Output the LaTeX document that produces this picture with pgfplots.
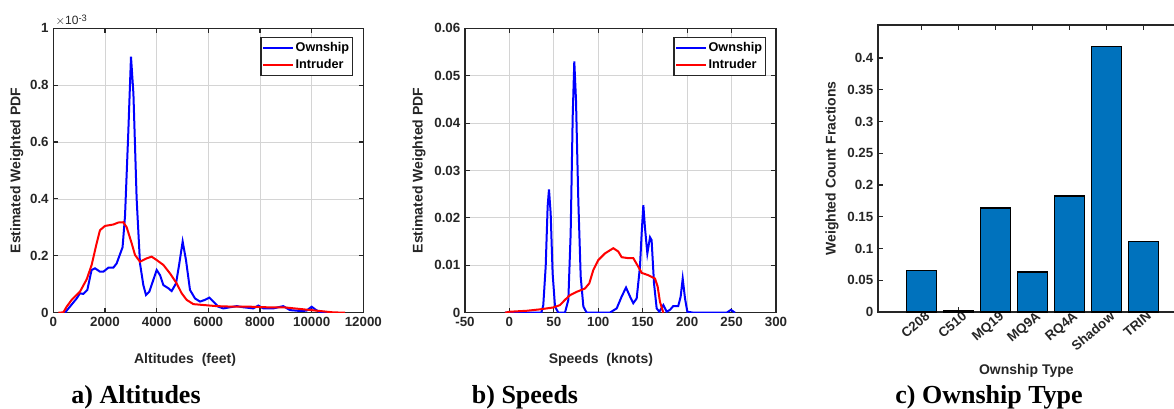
\documentclass[border=0pt]{standalone}
\usepackage{fontspec}
\setmainfont{Liberation Serif}
\setsansfont{Liberation Sans}
\usepackage{pgfplots}
\pgfplotsset{compat=1.18}
\definecolor{matblue}{RGB}{0,114,189}
\definecolor{axgray}{RGB}{38,38,38}

\pgfplotsset{
  matstyle/.style={
    scale only axis,
    anchor=south west,
    font=\sffamily\bfseries\fontsize{10}{12}\selectfont,
    tick label style={font=\sffamily\bfseries\fontsize{10}{12}\selectfont, text=axgray},
    label style={font=\sffamily\bfseries\fontsize{10.5}{12}\selectfont, text=axgray},
    /pgf/number format/assume math mode=true,
    /pgf/number format/1000 sep={},
    axis line style={line width=1pt, axgray},
    major tick length=3.5pt,
    tick style={line width=0.8pt, axgray},
    grid style={line width=0.6pt, black!17},
    legend style={draw=axgray, line width=0.9pt, font=\sffamily\bfseries\fontsize{9.5}{11}\selectfont,
      anchor=north east, inner xsep=1pt, inner ysep=2.5pt, row sep=2.5pt,
      nodes={inner xsep=1.5pt, inner ysep=1pt}},
    legend cell align=left,
    legend image code/.code={\draw[#1] (0pt,0pt) -- (22pt,0pt);},
  }
}

\begin{document}
\begin{tikzpicture}
\path[use as bounding box] (0,0) rectangle (880.5pt,306pt);

% ---------- a) Altitudes ----------
\begin{axis}[matstyle,
  at={(40pt,71.5pt)}, width=232.5pt, height=213.3pt,
  xmin=0, xmax=12000, ymin=0, ymax=1,
  xtick={0,2000,4000,6000,8000,10000,12000},
  scaled x ticks=false,
  ytick={0,0.2,0.4,0.6,0.8,1},
  yticklabels={0,0.2,0.4,0.6,0.8,1},
  grid=major,
  xlabel={Altitudes\ \ (feet)},
  ylabel={Estimated Weighted PDF},
  xlabel style={at={(axis description cs:0.425,-0.166)}, anchor=center},
  ylabel style={at={(axis description cs:-0.118,0.5)}, anchor=center},
  legend style={at={(rel axis cs:0.967,0.969)}},
]
\addplot[blue, line width=1.5pt] coordinates {
(450,0) (903,0.050) (1030,0.068) (1160,0.066) (1316,0.08) (1480,0.15) (1613,0.156)
(1806,0.144) (1935,0.144) (2130,0.158) (2320,0.158) (2450,0.173) (2680,0.23)
(2775,0.34) (2900,0.63) (3006,0.90) (3100,0.77) (3225,0.40) (3355,0.173)
(3484,0.097) (3587,0.062) (3716,0.074) (3870,0.115) (4000,0.15) (4130,0.132)
(4258,0.097) (4450,0.086) (4580,0.076) (4750,0.103) (4877,0.173) (5006,0.25)
(5135,0.185) (5290,0.08) (5484,0.05) (5677,0.039) (5870,0.045) (6040,0.053)
(6193,0.039) (6387,0.021) (6580,0.015) (6840,0.019) (7100,0.023) (7355,0.019)
(7740,0.015) (7935,0.025) (8130,0.015) (8516,0.015) (8900,0.023) (9160,0.009)
(9550,0.006) (9800,0.007) (10000,0.021) (10130,0.012) (10320,0.001) (10700,0)
};
\addlegendentry{Ownship}
\addplot[red, line width=1.5pt] coordinates {
(194,0) (387,0.001) (516,0.021) (710,0.045) (1032,0.074) (1290,0.117) (1484,0.168)
(1677,0.244) (1806,0.29) (2000,0.305) (2323,0.31) (2516,0.317) (2710,0.318)
(2840,0.30) (3032,0.244) (3161,0.203) (3355,0.179) (3613,0.191) (3806,0.197)
(4000,0.185) (4258,0.168) (4516,0.138) (4774,0.103) (4968,0.068) (5161,0.045)
(5420,0.030) (5806,0.027) (6323,0.023) (6968,0.021) (7613,0.021) (8258,0.019)
(8903,0.019) (9548,0.013) (10194,0.007) (10839,0.001) (11290,0)
};
\addlegendentry{Intruder}
\end{axis}
\node[anchor=south west, inner sep=0pt, font=\sffamily\fontsize{9}{10}\selectfont, text=axgray]
  at (41.5pt,286.5pt) {$\times$10\raisebox{0.55ex}{\fontsize{7}{8}\selectfont -3}};

% ---------- b) Speeds ----------
\begin{axis}[matstyle,
  at={(348.75pt,71.5pt)}, width=233.25pt, height=213.3pt,
  xmin=-50, xmax=300, ymin=0, ymax=0.06,
  xtick={-50,0,50,100,150,200,250,300},
  ytick={0,0.01,0.02,0.03,0.04,0.05,0.06},
  yticklabels={0,0.01,0.02,0.03,0.04,0.05,0.06},
  scaled y ticks=false,
  grid=major,
  xlabel={Speeds\ \ (knots)},
  ylabel={Estimated Weighted PDF},
  xlabel style={at={(axis description cs:0.437,-0.166)}, anchor=center},
  ylabel style={at={(axis description cs:-0.148,0.5)}, anchor=center},
  legend style={at={(rel axis cs:0.968,0.969)}},
]
\addplot[blue, line width=1.5pt] coordinates {
(-5,0) (36,0) (38.1,0.0016) (40.8,0.0097) (43,0.0224) (44.5,0.026) (46.4,0.021)
(48.6,0.0083) (51.3,0.0013) (55,0) (62.5,0) (66.3,0.0027) (68.9,0.0167)
(71.2,0.0414) (73,0.053) (74.9,0.0449) (77.5,0.0238) (80.2,0.0076) (83.2,0.0013)
(86.9,0) (113,0) (120.7,0.0009) (126.3,0.0034) (131.2,0.0053) (135.7,0.0034)
(139.4,0.002) (143.2,0.003) (146.9,0.0097) (148.8,0.0167) (150.7,0.0227)
(152.5,0.018) (155.2,0.0125) (158.2,0.0159) (160,0.0153) (162.7,0.0062)
(165.7,0.0009) (168.7,0.0002) (173.2,0.0016) (176.9,0.0002) (180.7,0.0006)
(184.4,0.0014) (190,0.0014) (192.7,0.0034) (195,0.0072) (197.6,0.003)
(200.2,0.0002) (207,0) (244.5,0) (249.3,0.0006) (253.8,0)
};
\addlegendentry{Ownship}
\addplot[red, line width=1.5pt] coordinates {
(-5,0) (0.6,0.0002) (19.4,0.0004) (34.4,0.0007) (49.4,0.0011) (56.9,0.0016)
(62.5,0.0027) (68.2,0.0037) (75.7,0.0044) (85,0.0051) (89.9,0.0062) (94.4,0.009)
(100,0.0111) (107.5,0.0125) (116.9,0.0136) (122.5,0.0129) (126.3,0.0117)
(133.8,0.0115) (139.4,0.0115) (145,0.0097) (148.8,0.0084) (156.3,0.0079)
(163.8,0.0072) (166.8,0.0055) (169.4,0.0023) (173.2,0)
};
\addlegendentry{Intruder}
\end{axis}

% ---------- c) Ownship Type ----------
\begin{axis}[matstyle,
  at={(658.5pt,72pt)}, width=222.5pt, height=215.25pt,
  xmin=-0.18, xmax=7.85, ymin=0, ymax=0.452,
  xtick={1,2,3,4,5,6,7},
  xticklabels={C208,C510,MQ19,MQ9A,RQ4A,Shadow,TRIN},
  xticklabel style={rotate=40, anchor=north east, inner sep=0.5pt, xshift=3pt,
    font=\sffamily\bfseries\fontsize{10}{12}\selectfont},
  ytick={0,0.05,0.1,0.15,0.2,0.25,0.3,0.35,0.4},
  yticklabels={0,0.05,0.1,0.15,0.2,0.25,0.3,0.35,0.4},
  ytick pos=left,
  scaled y ticks=false,
  xlabel={Ownship Type},
  ylabel={Weighted Count Fractions},
  xlabel style={at={(axis description cs:0.5,-0.205)}, anchor=center},
  ylabel style={at={(axis description cs:-0.155,0.5)}, anchor=center},
]
\addplot[ybar, bar width=0.81, fill=matblue, draw=black, line width=1pt] coordinates {
(1,0.065) (2,0.002) (3,0.164) (4,0.063) (5,0.1825) (6,0.418) (7,0.1115)
};
\end{axis}

% ---------- captions ----------
\node[anchor=base, inner sep=0pt, font=\bfseries\fontsize{19.5}{22}\selectfont] at (102pt,3.75pt) {a) Altitudes};
\node[anchor=base, inner sep=0pt, font=\bfseries\fontsize{19.5}{22}\selectfont] at (393.75pt,3.75pt) {b) Speeds};
\node[anchor=base, inner sep=0pt, font=\bfseries\fontsize{19.5}{22}\selectfont] at (741.75pt,3.75pt) {c) Ownship Type};
\end{tikzpicture}
\end{document}
